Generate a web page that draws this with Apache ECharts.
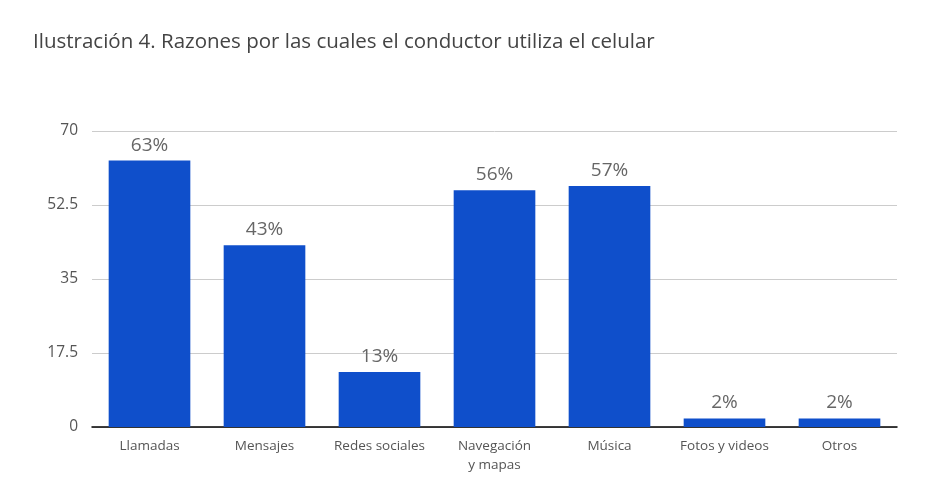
<!DOCTYPE html>
<html><head><meta charset="utf-8">
<script src="https://cdn.jsdelivr.net/npm/echarts@6/dist/echarts.min.js"></script>
<style>html,body{margin:0;padding:0;background:#fff}#c{width:949px;height:489px}</style>
</head><body><div id="c"></div>
<script>
const categories = ["Llamadas","Mensajes","Redes sociales","Navegación\ny mapas","Música","Fotos y videos","Otros"];
const values = [63,43,13,56,57,2,2];
const yTicks = [0,17.5,35,52.5,70];
const chart = echarts.init(document.getElementById('c'), null, {renderer:'canvas'});
chart.setOption({
  animation:false,
  title:{text:"Ilustración 4. Razones por las cuales el conductor utiliza el celular", left:28, top:27,
    textStyle:{fontFamily:"Open Sans", fontSize:20.5, fontWeight:500, color:'#444'}},
  grid:{left:92, right:52, top:131, bottom:62, containLabel:false},
  xAxis:{type:'category', data:categories,
    axisLine:{lineStyle:{color:'#000', width:1.5}}, axisTick:{show:false},
    axisLabel:{interval:0, hideOverlap:false, fontFamily:"Open Sans", fontSize:13.5, color:'#555', margin:10, lineHeight:19}},
  yAxis:{type:'value', min:yTicks[0], max:yTicks[yTicks.length-1], interval:17.5,
    axisLine:{show:false}, axisTick:{show:false},
    splitLine:{lineStyle:{color:'#ccc'}},
    axisLabel:{fontFamily:"Open Sans", fontSize:15.5, color:'#555', margin:14}},
  series:[{type:'bar', data:values, barWidth:'71%', itemStyle:{color:'#0f4fcb'},
    label:{show:true, position:'top', distance:6, formatter:'{c}%', fontFamily:"Open Sans", fontSize:19, color:'#666'}}]
});
</script></body></html>
